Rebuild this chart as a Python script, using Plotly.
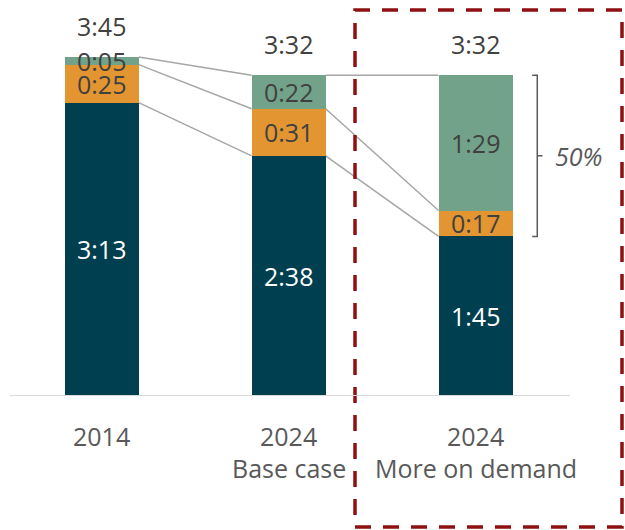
import plotly.graph_objects as go

# Daily viewing time, minutes per segment
category_years = ["2014", "2024", "2024"]
category_notes = ["", "Base case", "More on demand"]
linear_tv = [193, 158, 105]        # bottom segment
timeshift = [25, 31, 17]           # middle segment
on_demand = [5, 22, 89]            # top segment
totals = [225, 212, 212]           # stated totals above bars
share_label = "50%"

colors = {"linear": "#003F4F", "timeshift": "#E39532", "demand": "#72A38A"}
FONT = "Open Sans, sans-serif"
FS = 25
BAR_W = 0.396

# plot area in pixels (used to place items outside the axes in paper units)
L, R, T, B = 10, 55, 16, 134
PW, PH = 625 - L - R, 530 - T - B


def px_x(px):
    return (px - L) / PW


def px_y(py):
    return (530 - B - py) / PH


def hm(minutes):
    return f"{minutes // 60}:{minutes % 60:02d}"


xs = list(range(len(category_years)))
series = [
    ("linear", linear_tv, "white"),
    ("timeshift", timeshift, "#404040"),
    ("demand", on_demand, "#404040"),
]

fig = go.Figure()
base = [0] * len(xs)
tops = []
annotations = []
for key, vals, tcol in series:
    fig.add_trace(go.Bar(
        x=xs, y=vals, base=base, width=BAR_W,
        marker=dict(color=colors[key], line=dict(width=0)),
        hoverinfo="skip", showlegend=False,
    ))
    for i, v in enumerate(vals):
        annotations.append(dict(
            x=i, y=base[i] + v / 2, text=hm(v), showarrow=False,
            font=dict(family=FONT, size=FS, color=tcol),
            xanchor="center", yanchor="middle",
        ))
    base = [b + v for b, v in zip(base, vals)]
    tops.append(list(base))

# totals above bars
for i, t in enumerate(totals):
    annotations.append(dict(
        x=i, y=base[i], text=hm(t), showarrow=False, yshift=31,
        font=dict(family=FONT, size=FS, color="#404040"),
        xanchor="center", yanchor="middle",
    ))

# category labels under axis
for i, (yr, note) in enumerate(zip(category_years, category_notes)):
    annotations.append(dict(
        x=i, y=0, text=yr, showarrow=False, yshift=-40,
        font=dict(family=FONT, size=FS, color="#595959"),
        xanchor="center", yanchor="middle",
    ))
    if note:
        annotations.append(dict(
            x=i, y=0, text=note, showarrow=False, yshift=-72,
            font=dict(family=FONT, size=FS, color="#595959"),
            xanchor="center", yanchor="middle",
        ))

# connector lines between segment tops of neighbouring bars
shapes = []
half = BAR_W / 2
for seg in tops:
    for i in range(len(xs) - 1):
        shapes.append(dict(
            type="line", xref="x", yref="y",
            x0=i + half, y0=seg[i], x1=i + 1 - half, y1=seg[i + 1],
            line=dict(color="#A6A6A6", width=1.5), layer="below",
        ))

# brace over the non-linear share of the last bar
last = len(xs) - 1
y_top = tops[2][last]
y_bot = tops[0][last]
y_mid = (y_top + y_bot) / 2
bx0, bx1, bx2 = last + 0.303, last + 0.33, last + 0.358
shapes.append(dict(
    type="path", xref="x", yref="y",
    path=(f"M {bx0},{y_top} L {bx1},{y_top} L {bx1},{y_bot} L {bx0},{y_bot} "
          f"M {bx1},{y_mid} L {bx2},{y_mid}"),
    line=dict(color="#595959", width=1.5),
))
annotations.append(dict(
    x=px_x(578), xref="paper", y=y_mid, text=f"<i>{share_label}</i>",
    showarrow=False,
    font=dict(family=FONT, size=FS, color="#595959"),
    xanchor="center", yanchor="middle",
))

# dashed frame around the scenario
shapes.append(dict(
    type="rect", xref="paper", yref="paper",
    x0=px_x(355), x1=px_x(622), y0=px_y(527), y1=px_y(10),
    line=dict(color="#8E1010", width=3.5, dash="16px,12px"),
))

# baseline
shapes.append(dict(type="line", xref="paper", yref="y", x0=0, x1=1,
                   y0=0, y1=0, line=dict(color="#D9D9D9", width=2)))

fig.update_layout(
    width=625, height=530,
    margin=dict(l=L, r=R, t=T, b=B),
    paper_bgcolor="white", plot_bgcolor="white",
    bargap=0, barmode="overlay",
    xaxis=dict(range=[-0.49, 2.505], showticklabels=False, showgrid=False,
               zeroline=False, showline=False, fixedrange=True),
    yaxis=dict(range=[0, 250], visible=False, showgrid=False, fixedrange=True),
    shapes=shapes,
    annotations=annotations,
)

fig.write_html("out.html")
